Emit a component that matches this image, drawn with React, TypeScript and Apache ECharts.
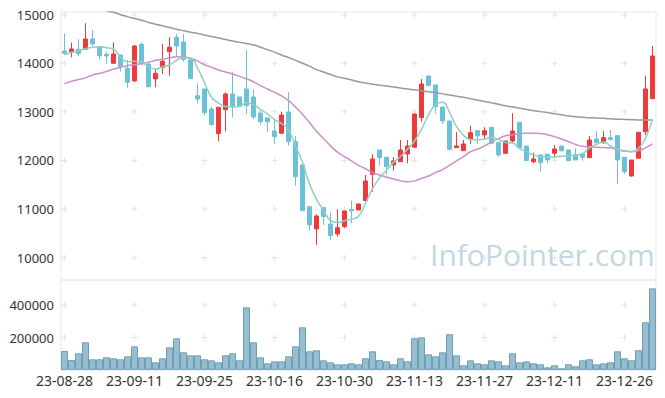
import React, { useEffect, useRef } from "react";
import * as echarts from "echarts";

const dates = [
  "23-08-28","23-08-29","23-08-30","23-08-31","23-09-01","23-09-04","23-09-05","23-09-06","23-09-07","23-09-08",
  "23-09-11","23-09-12","23-09-13","23-09-14","23-09-15","23-09-18","23-09-19","23-09-20","23-09-21","23-09-22",
  "23-09-25","23-09-26","23-09-27","23-10-04","23-10-05","23-10-06","23-10-10","23-10-11","23-10-12","23-10-13",
  "23-10-16","23-10-17","23-10-18","23-10-19","23-10-20","23-10-23","23-10-24","23-10-25","23-10-26","23-10-27",
  "23-10-30","23-10-31","23-11-01","23-11-02","23-11-03","23-11-06","23-11-07","23-11-08","23-11-09","23-11-10",
  "23-11-13","23-11-14","23-11-15","23-11-16","23-11-17","23-11-20","23-11-21","23-11-22","23-11-23","23-11-24",
  "23-11-27","23-11-28","23-11-29","23-11-30","23-12-01","23-12-04","23-12-05","23-12-06","23-12-07","23-12-08",
  "23-12-11","23-12-12","23-12-13","23-12-14","23-12-15","23-12-18","23-12-19","23-12-20","23-12-21","23-12-22",
  "23-12-26","23-12-27","23-12-28","24-01-02","24-01-03"
];

const opens = [
  14253,14239,14288,14288,14500,14329,14185,14000,14171,13897,
  13636,14391,13979,13677,13918,14239,14535,14438,14068,13333,
  13471,13060,12551,13045,13368,13307,13471,13307,12977,12874,
  12607,12560,12998,12387,11907,11049,10591,11029,10693,10488,
  10638,10990,10981,11173,11716,12216,12066,11907,11975,12134,
  12272,12881,13739,13554,13101,12813,12263,12202,12436,12613,
  12525,12683,12366,12148,12401,12786,12298,11975,12113,12128,
  12148,12298,12216,12113,12134,12058,12442,12366,12469,12510,
  12066,11681,12045,12593,13272
];
const closes = [
  14206,14294,14198,14500,14397,14156,14150,14191,13930,13609,
  14356,13986,13519,13794,14041,14329,14356,14082,13683,13265,
  12984,12737,13095,13368,13128,13107,13128,12895,12798,12798,
  12490,12936,12387,11667,10967,10673,10858,10844,10453,10617,
  10961,10965,11105,11578,12031,12058,11872,11990,12216,12298,
  12957,13574,13539,13107,12813,12230,12298,12340,12572,12504,
  12613,12354,12113,12401,12607,12263,11996,12031,11955,12010,
  12237,12202,11996,12010,12066,12422,12366,12469,12428,12010,
  11770,12010,12580,13471,14150
];
const lows = [
  14171,14123,14150,14280,14356,14082,13986,13990,13827,13498,
  13615,13965,13498,13506,13780,13745,14156,14033,13683,13177,
  12922,12716,12395,12601,12889,13107,12957,12854,12737,12586,
  12340,12545,12305,11481,10967,10556,10261,10673,10364,10432,
  10605,10708,10981,11173,11358,11893,11702,11790,11975,11942,
  12272,12798,13539,12971,12751,12202,12263,12202,12340,12340,
  12436,12354,12078,12148,12366,12263,11996,11942,11770,11942,
  12066,12181,11996,12010,11996,12058,12366,12340,12428,11516,
  11722,11667,12045,12525,13272
];
const highs = [
  14617,14424,14494,14823,14685,14342,14239,14432,14171,14068,
  14377,14424,14012,13883,14397,14535,14603,14603,14103,13588,
  13471,13107,13095,13403,13827,13307,14274,13457,13025,12874,
  12833,13004,13403,12504,11907,11049,10893,11029,10926,10996,
  10961,11173,11105,11702,12128,12216,12066,12066,12422,12422,
  12957,13677,13739,13554,13101,12813,12586,12422,12716,12613,
  12683,12683,12366,12401,12971,12786,12298,12160,12113,12128,
  12319,12298,12216,12251,12134,12504,12607,12607,12628,12510,
  12066,12010,12580,13745,14356
];
const volumes = [
  116900,61500,102600,170400,65800,65800,78000,72000,65800,84000,
  145800,78000,78000,47200,72000,139700,195000,108700,90200,90200,
  65800,59500,47200,90200,102600,59500,385600,170400,78000,41000,
  53300,53300,84000,145800,262600,115000,121200,59500,47200,35000,
  35000,41000,35000,72000,115000,61500,53300,35000,72000,53300,
  195000,201200,96400,84000,108700,219700,90200,28700,59500,41000,
  35000,59500,53300,28700,102600,47200,53300,41000,35000,16400,
  28700,10300,35000,22600,59500,65800,35000,41000,47200,115000,
  72000,59500,121200,293500,502500
];
const ma5 = [
  14180,14220,14260,14300,14330,14340,14320,14290,14130,14030,
  14040,14030,13920,13880,13930,13970,14060,14120,14110,13900,
  13600,13300,13180,13110,13100,13120,13180,13150,13050,12960,
  12840,12760,12630,12300,11960,11520,11200,10980,10760,10720,
  10760,10790,10850,11120,11420,11640,11800,11960,12080,12230,
  12400,12640,12940,13150,13200,12990,12700,12520,12430,12420,
  12440,12470,12430,12370,12360,12250,12180,12110,12080,12070,
  12075,12085,12095,12110,12140,12260,12330,12380,12300,12230,
  12190,12180,12250,12460,12840
];
const ma20 = [
  13580,13630,13665,13700,13760,13790,13830,13880,13920,13950,
  13970,13990,14020,14060,14080,14110,14136,14130,14100,14050,
  13970,13920,13860,13820,13780,13730,13680,13620,13540,13470,
  13400,13330,13230,13100,12950,12780,12600,12450,12300,12170,
  12080,11990,11900,11830,11750,11700,11660,11620,11580,11560,
  11580,11630,11680,11750,11810,11900,11990,12080,12180,12230,
  12300,12380,12450,12510,12530,12550,12560,12560,12555,12530,
  12490,12440,12390,12330,12290,12280,12270,12265,12260,12220,
  12200,12185,12200,12260,12340
];
const ma60 = [
  15290,15255,15220,15185,15150,15115,15080,15049,15000,14960,
  14920,14885,14840,14805,14770,14735,14700,14670,14640,14615,
  14580,14550,14520,14490,14460,14430,14405,14377,14330,14280,
  14230,14170,14120,14060,14000,13940,13870,13820,13770,13720,
  13690,13655,13620,13595,13570,13550,13530,13510,13490,13470,
  13455,13435,13415,13395,13370,13345,13320,13300,13270,13240,
  13215,13185,13155,13125,13100,13075,13050,13025,13005,12985,
  12960,12940,12915,12900,12890,12880,12875,12868,12860,12850,
  12845,12840,12835,12833,12833
];
const priceTicks = [10000, 11000, 12000, 13000, 14000, 15000];
const volumeTicks = [200000, 400000];
const labeledDates = ["23-08-28","23-09-11","23-09-25","23-10-16","23-10-30","23-11-13","23-11-27","23-12-11","23-12-26"];
const watermark = "InfoPointer.com";

const FONT = '"Noto Sans", "Open Sans", sans-serif';
const PLUS = "path://M2.5,0H3.5V2.5H6V3.5H3.5V6H2.5V3.5H0V2.5H2.5Z";

export default function App() {
  const ref = useRef<HTMLDivElement>(null);
  useEffect(() => {
    if (!ref.current) return;
    const chart = echarts.init(ref.current, undefined, { renderer: "svg" });
    const candles = dates.map((_, i) => [opens[i], closes[i], lows[i], highs[i]]);
    const priceCross: any[] = [];
    labeledDates.forEach((d) => priceTicks.forEach((v) => priceCross.push([d, v])));
    const volCross: any[] = [];
    labeledDates.forEach((d) => volumeTicks.forEach((v) => volCross.push([d, v])));
    const lbl = { color: "#333", fontSize: 13, fontFamily: FONT, formatter: (v: number) => String(v) };
    chart.setOption({
      animation: false,
      backgroundColor: "#fff",
      grid: [
        { left: 61, right: 9, top: 12, height: 268, show: true, borderColor: "#e6e6e6", borderWidth: 1 },
        { left: 61, right: 9, top: 280, height: 90, show: true, borderColor: "#e6e6e6", borderWidth: 1 },
      ],
      xAxis: [
        {
          type: "category", gridIndex: 0, data: dates, boundaryGap: true,
          axisLine: { show: false }, axisTick: { show: false }, axisLabel: { show: false }, splitLine: { show: false },
        },
        {
          type: "category", gridIndex: 1, data: dates, boundaryGap: true,
          axisLine: { show: false }, axisTick: { show: false }, splitLine: { show: false },
          axisLabel: { interval: 9, color: "#333", fontSize: 14, fontFamily: FONT, margin: 3 },
        },
      ],
      yAxis: [
        {
          type: "value", gridIndex: 0, min: 9540, max: 15055, scale: true,
          axisLine: { show: false }, axisTick: { show: false }, splitLine: { show: false },
          axisLabel: { ...lbl, margin: 7, customValues: priceTicks },
        },
        {
          type: "value", gridIndex: 1, min: 0, max: 554000,
          axisLine: { show: false }, axisTick: { show: false }, splitLine: { show: false },
          axisLabel: { ...lbl, margin: 7, customValues: volumeTicks },
        },
      ],
      graphic: [
        {
          type: "text", left: 430, top: 239, z: 0, silent: true,
          style: { text: watermark, fontSize: 30, fontFamily: '"Open Sans", sans-serif', fill: "#c3d7e2" },
        },
      ],
      series: [
        {
          type: "scatter", xAxisIndex: 0, yAxisIndex: 0, data: priceCross, symbol: PLUS, symbolSize: 6,
          itemStyle: { color: "#dcdcdc" }, silent: true, z: 1,
        },
        {
          type: "scatter", xAxisIndex: 1, yAxisIndex: 1, data: volCross, symbol: PLUS, symbolSize: 6,
          itemStyle: { color: "#dcdcdc" }, silent: true, z: 1,
        },
        {
          type: "candlestick", xAxisIndex: 0, yAxisIndex: 0, data: candles, barWidth: 5, z: 3,
          itemStyle: { color: "#ef3a3c", color0: "#6cc0d8", borderColor: "#ef3a3c", borderColor0: "#6cc0d8", borderWidth: 1 },
        },
        {
          type: "line", xAxisIndex: 0, yAxisIndex: 0, data: ma60, smooth: true, symbol: "none", z: 4,
          lineStyle: { color: "#999999", width: 1.5 },
        },
        {
          type: "line", xAxisIndex: 0, yAxisIndex: 0, data: ma20, smooth: true, symbol: "none", z: 4,
          lineStyle: { color: "#cc8fca", width: 1.5 },
        },
        {
          type: "line", xAxisIndex: 0, yAxisIndex: 0, data: ma5, smooth: true, symbol: "none", z: 4,
          lineStyle: { color: "#8fcfc3", width: 1.5 },
        },
        {
          type: "bar", xAxisIndex: 1, yAxisIndex: 1, data: volumes, barCategoryGap: "0%", z: 3,
          itemStyle: { color: "rgba(125,174,196,0.8)", borderColor: "#6f9fb4", borderWidth: 1 },
        },
      ],
    });
    return () => chart.dispose();
  }, []);
  return <div ref={ref} style={{ width: 665, height: 398, position: "absolute", left: 0, top: 0 }} />;
}
